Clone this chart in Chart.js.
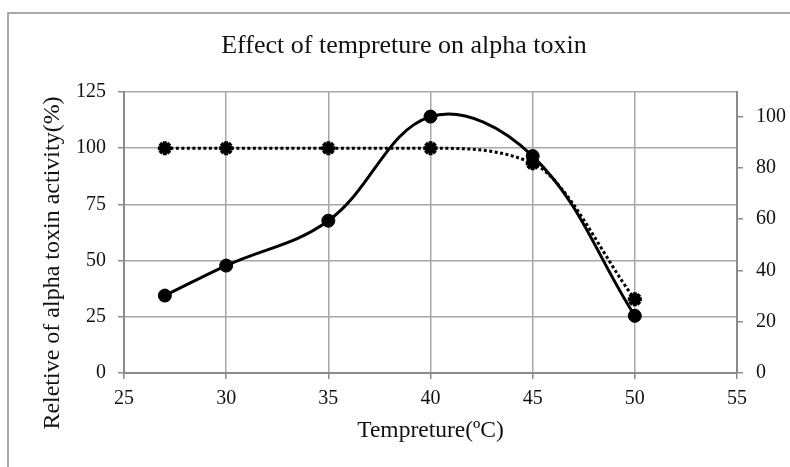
<!DOCTYPE html>
<html>
<head>
<meta charset="utf-8">
<script src="https://cdn.jsdelivr.net/npm/chart.js@4/dist/chart.umd.min.js"></script>
<style>
  html, body { margin: 0; padding: 0; background: #fff; overflow: hidden; }
  #wrap { position: relative; width: 790px; height: 467px; overflow: hidden; }
  #frame { position: absolute; left: 7px; top: 12px; width: 800px; height: 480px; border: 2px solid #a9a9a9; box-sizing: border-box; }
  canvas { position: absolute; left: 0; top: 0; }
</style>
</head>
<body>
<div id="wrap">
  <div id="frame"></div>
  <canvas id="c" width="790" height="467"></canvas>
</div>
<script>
// ---- data ----
const temperatures = [27, 30, 35, 40, 45, 50];
const activitySolid = [30.2, 41.9, 59.4, 100, 84.6, 22.3];   // right axis (0-100 scale)
const activityDotted = [100, 100, 100, 100, 93.3, 32.8];   // left axis (0-125 scale)
const xTicks = [25, 30, 35, 40, 45, 50, 55];
const leftTicks = [0, 25, 50, 75, 100, 125];
const rightTicks = [0, 20, 40, 60, 80, 100];

const chartTitle = 'Effect of tempreture on alpha toxin';
const xTitle = 'Tempreture(\u00BAC)';
const yTitle = 'Reletive of alpha toxin activity(%)';

const serif = "'Liberation Serif', 'Times New Roman', serif";
const gridColor = '#a8a8a8';
const axisColor = '#8a8a8a';
const textColor = '#111';

const yTitlePlugin = {
  id: 'yTitle',
  afterDraw(chart) {
    const ctx = chart.ctx;
    ctx.save();
    ctx.translate(53, 263);
    ctx.rotate(-Math.PI / 2);
    ctx.font = "24px " + serif;
    ctx.fillStyle = textColor;
    ctx.textAlign = 'center';
    ctx.textBaseline = 'middle';
    ctx.fillText(yTitle, 0, 0);
    ctx.restore();
  }
};

new Chart(document.getElementById('c'), {
  type: 'line',
  data: {
    datasets: [
      {
        label: 'dotted',
        data: temperatures.map((t, i) => ({ x: t, y: activityDotted[i] })),
        yAxisID: 'y',
        borderColor: '#000',
        borderWidth: 3,
        borderDash: [3, 2.5],
        cubicInterpolationMode: 'monotone',
        pointStyle: 'star',
        pointRadius: 7,
        pointBorderWidth: 4,
        pointBackgroundColor: '#000',
        pointBorderColor: '#000',
        fill: false
      },
      {
        label: 'solid',
        data: temperatures.map((t, i) => ({ x: t, y: activitySolid[i] })),
        yAxisID: 'y1',
        borderColor: '#000',
        borderWidth: 3,
        tension: 0.38,
        pointStyle: 'circle',
        pointRadius: 6.5,
        pointBorderWidth: 1,
        pointBackgroundColor: '#000',
        pointBorderColor: '#000',
        fill: false
      }
    ]
  },
  options: {
    responsive: false,
    animation: false,
    devicePixelRatio: 1,
    layout: { padding: { left: 18, right: 0, top: 0, bottom: 0 } },
    plugins: {
      legend: { display: false },
      tooltip: { enabled: false },
      title: {
        display: true,
        text: chartTitle,
        color: textColor,
        font: { family: serif, size: 26, weight: 'normal', lineHeight: 1.2 },
        padding: { top: 30.4, bottom: 30.4 }
      }
    },
    scales: {
      x: {
        type: 'linear',
        min: 25, max: 55,
        afterBuildTicks: (s) => { s.ticks = xTicks.map(v => ({ value: v })); },
        afterFit: (s) => { s.height = 94; },
        ticks: { color: textColor, font: { family: serif, size: 20 }, padding: 8 },
        grid: { color: gridColor, lineWidth: 1.5, tickLength: 6, tickColor: axisColor },
        border: { color: axisColor, width: 2 },
        title: {
          display: true, text: xTitle, color: textColor,
          font: { family: serif, size: 23.5, lineHeight: 1.2 },
          padding: { top: 0, bottom: 22 }
        }
      },
      y: {
        position: 'left',
        min: 0, max: 125,
        afterBuildTicks: (s) => { s.ticks = leftTicks.map(v => ({ value: v })); },
        afterFit: (s) => { s.width = 106; },
        ticks: { color: textColor, font: { family: serif, size: 20 }, padding: 12 },
        grid: { color: gridColor, lineWidth: 1.5, tickLength: 6, tickColor: axisColor },
        border: { color: axisColor, width: 2 }
      },
      y1: {
        position: 'right',
        min: 0, max: 109.6,
        afterBuildTicks: (s) => { s.ticks = rightTicks.map(v => ({ value: v })); },
        afterFit: (s) => { s.width = 53; },
        ticks: { color: textColor, font: { family: serif, size: 20 }, padding: 13 },
        grid: { drawOnChartArea: false, tickLength: 6, tickColor: axisColor, lineWidth: 1.5 },
        border: { color: axisColor, width: 2 }
      }
    }
  },
  plugins: [yTitlePlugin]
});
</script>
</body>
</html>
